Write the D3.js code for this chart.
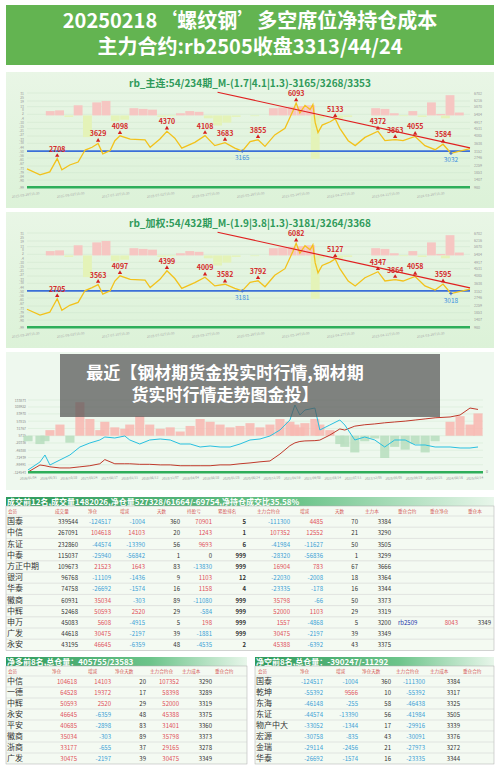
<!DOCTYPE html>
<html><head><meta charset="utf-8">
<script src="https://cdn.jsdelivr.net/npm/d3@7"></script>
<style>body{margin:0;background:#fff}svg{display:block;font-family:"Noto Sans CJK SC","Noto Sans",sans-serif}</style>
</head><body><div id="chart"></div>
<script>
const W = 500, H = 772;
const svg = d3.select("#chart").append("svg").attr("width", W).attr("height", H);

// ---- data ----
const titleLines = ["20250218‘螺纹钢’多空席位净持仓成本", "主力合约:rb2505收盘3313/44/24"];

const mainYears = [15.60,15.88,16.09,16.25,16.35,16.52,16.70,16.85,17.00,17.13,17.23,17.39,17.49,17.60,17.82,18.14,18.25,18.46,18.61,18.78,18.93,19.21,19.43,19.64,19.86,20.07,20.23,20.40,20.57,20.72,20.93,21.15,21.32,21.39,21.47,21.58,21.69,21.75,21.80,21.86,21.95,22.12,22.23,22.33,22.51,22.66,22.87,23.15,23.30,23.52,23.69,23.95,24.16,24.38,24.55,24.72,25.13];
const mainPrice = [2080,1720,1900,2708,2020,2320,2500,3230,3400,3629,3000,3200,3800,4098,3900,3850,3400,3900,4370,3950,3350,3700,4108,3500,3683,3350,3165,3750,3855,3450,4150,4550,5600,6093,5500,5950,5700,6000,4900,4300,4750,4950,5133,4550,3800,3500,4000,4372,3800,3863,3800,4055,3500,3250,3584,3032,3310];
const weightPrice = [2060,1700,1880,2705,2000,2300,2480,3200,3380,3563,2980,3180,3780,4097,3880,3830,3380,3880,4399,3930,3330,3680,4009,3480,3582,3330,3181,3700,3792,3430,4130,4530,5580,6082,5480,5930,5680,5980,4880,4280,4730,4930,5127,4530,3780,3480,3980,4347,3780,3864,3780,4058,3480,3230,3595,3018,3290];
const mainPeaks = [3, 9, 13, 18, 22, 24, 28, 33, 42, 47, 49, 51, 54];
const mainLows = [26, 55];

const histYears = [15.6,15.9,16.1,16.3,16.5,16.7,16.9,17.1,17.3,17.5,17.7,17.9,18.1,18.3,18.5,18.7,18.9,19.1,19.3,19.5,19.7,19.9,20.1,20.3,20.5,20.7,20.9,21.1,21.3,21.5,21.7,21.8,21.9,22.1,22.3,22.5,22.7,22.9,23.1,23.3,23.5,23.7,23.9,24.1,24.3,24.5,24.6,24.7,24.9,25.1];
const histMain = [0,0,6,7,-2,14,-30,18,20,-8,-6,10,9,8,-2,-1,3,6,5,-4,-14,-10,-2,0,-1,0,10,11,12,13,14,-60,-4,0,-6,-2,0,0,10,9,3,-1,6,-2,18,2,-4,28,4,0];

const leftTicks1 = [31,25,19,13,8,2,-4,-10,-15,-21,-27,-33,-38,-44,-50,-56,-61,-67,-73,-79,-84,-90,-99];
const rightTicks1 = [6702,6216,5870,5404,4917,4531,4085,3638,3152,2746,2259,1853,1407,980];
const dateLabels1 = ["2015-09-28T15:30","2016-08-03T15:00","2017-07-10T15:30","2018-07-02T15:00","2019-09-17T15:00","2020-05-28T15:00","2021-05-14T15:00","2022-04-27T15:30","2023-04-11T15:00","2024-03-28T15:30"];
const trendStart = [19.70, 6750], trendEnd = [25.13, 3360];

const netYears = [16.00,16.24,16.34,16.44,16.64,16.84,17.04,17.24,17.44,17.54,17.74,17.94,18.04,18.24,18.44,18.65,18.85,19.05,19.25,19.45,19.65,19.85,20.05,20.25,20.45,20.65,20.85,21.05,21.25,21.35,21.45,21.55,21.75,21.85,22.05,22.25,22.35,22.55,22.75,22.95,23.15,23.35,23.56,23.76,23.96,24.16,24.46,24.66,24.86,25.02];
const priceIdx = [-117357,-88645,-63520,-99412,-81467,-63520,-34810,-20454,-9687,1080,-2509,4669,-9687,-24043,-9687,-6098,-9687,-24043,-24043,-34810,-31221,-34810,-34810,-24043,-9687,-6098,4669,26203,62093,115928,80038,97983,105161,26203,44148,62093,44148,-9687,1080,-9687,-34810,-9687,-9687,-27632,-27632,-34810,-34810,-38399,-38399,-34810];
const profitIdx = [-124543,-99412,-102000,-106000,-110000,-110000,-106000,-102000,-95000,-80000,-95000,-95000,-95000,-97000,-97000,-99000,-99000,-102000,-102000,-102000,-102000,-99000,-99000,-95000,-92000,-88000,-85000,-60000,-30000,-20000,-15000,-13000,-12000,-10000,8000,30000,26000,40000,45000,48000,52000,55000,58000,62000,66000,70000,73000,80000,105000,100000];
const netBars = [-20000,-30000,-20000,20000,40000,-25000,120000,60000,20000,50000,30000,25000,40000,70000,40000,25000,30000,15000,35000,60000,50000,40000,30000,35000,45000,30000,40000,60000,50000,40000,30000,45000,60000,40000,20000,-30000,-40000,-60000,-20000,-10000,-80000,-40000,-50000,-30000,-60000,-20000,50000,70000,40000,80000];
const leftTicks3 = [133873,108922,83970,57815,31767,5715,-20336,-46388,-72439,-98491,-124543];
const dateLabels3 = ["2016/01/04","2016/05/31","2016/10/28","2017/03/24","2017/08/17","2018/01/11","2018/06/12","2018/11/07","2019/04/04","2019/08/28","2020/01/23","2020/06/24","2020/11/20","2021/04/19","2021/09/08","2022/03/14","2022/07/11","2022/12/05","2023/05/05","2023/09/23","2024/02/21","2024/08/16","2025/02/14"];

const t1Title = "成交前12名,成交量1482026,净仓量527328/61664/-69754,净持仓成交比35.58%";
const t1Heads = ["会员","成交量","净仓","增减","天数","持盈亏","累盈排名","主力合约仓","增减","天数","主力本","重仓合约","重仓净仓","重仓本"];
const t1Names = ["国泰","中信","东证","中泰","方正中期","银河","华泰","徽商","中辉","申万","广发","永安"];
const t1Vol = [339544,267091,232860,115037,109673,96768,74758,60931,52468,45083,44618,43195];
const t1Net = [-124517,104618,-44574,-25940,21523,-11109,-26692,35034,50593,5608,30475,46645];
const t1Chg = [-1004,14103,-13390,-56842,1643,-1436,-1574,-303,2520,-4915,-2197,-6359];
const t1Days = [360,20,56,1,83,9,16,89,29,5,39,48];
const t1Pnl = [70901,1243,9693,0,-13830,1103,1158,-11080,-584,198,-1881,-4535];
const t1Rank = [5,1,6,999,999,12,4,999,999,999,999,2];
const t1Main = [-111300,107352,-41984,-28320,16904,-22030,-23335,35798,52000,1557,30475,45388];
const t1MainChg = [4485,12552,-11627,-56836,783,-2008,-178,-66,1103,-4868,-2197,-6392];
const t1MainDays = [70,21,50,1,67,18,16,50,29,5,39,43];
const t1Cost = [3384,3290,3505,3299,3666,3364,3344,3373,3319,3200,3349,3375];

const t2Title = "净多前8名,总仓量：405755/23583";
const t2Names = ["中信","一德","中辉","永安","平安","徽商","浙商","广发"];
const t2Net = [104618,64528,50593,46645,40685,35034,33177,30475];
const t2Chg = [14103,19372,2520,-6359,-2898,-303,-655,-2197];
const t2Days = [20,17,29,48,83,89,37,39];
const t2Main = [107352,58398,52000,45388,31401,35798,29165,30475];
const t2Cost = [3290,3289,3319,3375,3360,3373,3278,3349];

const t3Title = "净空前8名,总仓量：-390247/-11292";
const t3Names = ["国泰","乾坤","东海","东证","物产中大","宏源","金瑞","华泰"];
const t3Net = [-124517,-55392,-46148,-44574,-33052,-30758,-29114,-26692];
const t3Chg = [-1004,9566,-255,-13390,-1344,-835,-2456,-1574];
const t3Days = [360,10,58,56,17,43,21,16];
const t3Main = [-111300,-55392,-46438,-41984,-29916,-30091,-27973,-23335];
const t3Cost = [3384,3317,3325,3505,3339,3376,3272,3344];
const t23Heads = ["会员","净仓","增减","净仓天数","主力合约仓","主力成本","重仓合约"];

// ---- helpers ----
const RED = "#e0505a", BLUE = "#3a9fd6", GREEN = "#2f9a5a";
const sign = v => v > 0 ? RED : v < 0 ? BLUE : "#333";
const defs = svg.append("defs");
const gr = defs.append("linearGradient").attr("id", "pbg").attr("x1", 0).attr("x2", 0).attr("y1", 0).attr("y2", 1);
gr.append("stop").attr("offset", 0).attr("stop-color", "#e9f6e6");
gr.append("stop").attr("offset", 1).attr("stop-color", "#dcf2d8");
const hg = defs.append("linearGradient").attr("id", "hbg");
hg.append("stop").attr("offset", 0).attr("stop-color", "#2e9a5c");
hg.append("stop").attr("offset", 0.6).attr("stop-color", "#6cc48a");
hg.append("stop").attr("offset", 1).attr("stop-color", "#e8f6ea");

// header
svg.append("rect").attr("x", 6).attr("y", 5).attr("width", 488).attr("height", 60).attr("fill", "#63b451");
titleLines.forEach((t, i) => svg.append("text").attr("x", 250).attr("y", 28 + i * 26)
  .attr("text-anchor", "middle").attr("fill", "#fff").attr("font-size", 20).attr("font-weight", "bold").text(t));

function pricePanel(top, title, price, peaks, lows) {
  const g = svg.append("g");
  g.append("rect").attr("x", 6).attr("y", top).attr("width", 488).attr("height", 136).attr("fill", "url(#pbg)");
  g.append("text").attr("x", 250).attr("y", top + 15).attr("text-anchor", "middle").attr("fill", GREEN)
    .attr("font-size", 10).attr("font-weight", "bold").text(title);
  const x = d3.scaleLinear().domain([15.6, 25.13]).range([27, 470]);
  const y = d3.scaleLinear().domain([980, 6702]).range([top + 115, top + 21]);
  const yh = d3.scaleLinear().domain([-99, 31]).range([top + 115, top + 21]);
  rightTicks1.forEach(v => {
    g.append("line").attr("x1", 27).attr("x2", 470).attr("y1", y(v)).attr("y2", y(v)).attr("stroke", "#cfe5cc").attr("stroke-width", 0.5);
    g.append("text").attr("x", 474).attr("y", y(v) + 1.5).attr("font-size", 3.6).attr("fill", "#999").text(v);
  });
  leftTicks1.forEach(v => g.append("text").attr("x", 24).attr("y", yh(v) + 1.5).attr("text-anchor", "end")
    .attr("font-size", 3.4).attr("fill", "#999").text(v));
  const bw = (x(25.13) - x(15.6)) / histYears.length;
  g.selectAll(".h").data(histMain).join("rect")
    .attr("x", (d, i) => x(histYears[i]) - bw / 2).attr("width", bw)
    .attr("y", d => Math.min(yh(0), yh(d))).attr("height", d => Math.abs(yh(d) - yh(0)))
    .attr("fill", d => d > 0 ? "#f6c6c2" : "#e4f3b8");
  g.append("rect").attr("x", 27).attr("y", top + 114).attr("width", 443).attr("height", 2.5).attr("fill", "#2fae5a");
  g.append("line").attr("x1", 27).attr("x2", 470).attr("y1", y(price[lows[0]])).attr("y2", y(price[lows[0]]))
    .attr("stroke", "#3b6fd8").attr("stroke-width", 1.6);
  g.append("path").datum(price).attr("fill", "none").attr("stroke", "#f2c21b").attr("stroke-width", 1.3)
    .attr("d", d3.line().x((d, i) => x(mainYears[i])).y(d => y(d)));
  g.append("line").attr("x1", x(trendStart[0])).attr("y1", y(trendStart[1]))
    .attr("x2", x(trendEnd[0])).attr("y2", y(trendEnd[1])).attr("stroke", "#e02020").attr("stroke-width", 1.2);
  peaks.forEach(i => {
    g.append("path").attr("d", d3.symbol(d3.symbolTriangle, 8)()).attr("fill", "#d42020")
      .attr("transform", `translate(${x(mainYears[i])},${y(price[i]) - 3})`);
    g.append("text").attr("x", x(mainYears[i])).attr("y", y(price[i]) - 7).attr("text-anchor", "middle")
      .attr("font-size", 7).attr("font-weight", "bold").attr("fill", "#d42a2a").text(price[i]);
  });
  lows.forEach(i => {
    g.append("path").attr("d", d3.symbol(d3.symbolCross, 6)()).attr("fill", "#3b6fd8")
      .attr("transform", `translate(${x(mainYears[i])},${y(price[i])})`);
    g.append("text").attr("x", x(mainYears[i])).attr("y", y(price[i]) + 9).attr("text-anchor", "middle")
      .attr("font-size", 6.5).attr("fill", "#3a8ee0").text(price[i]);
  });
  dateLabels1.forEach((d, i) => g.append("text").attr("font-size", 3.4).attr("fill", "#aaa")
    .attr("transform", `translate(${12 + i * 45},${top + 126}) rotate(-8)`).text(d));
}
pricePanel(72, "rb_主连:54/234期_M-(1.7|4.1|1.3)-3165/3268/3353", mainPrice, mainPeaks, mainLows);
pricePanel(212, "rb_加权:54/432期_M-(1.9|3.8|1.3)-3181/3264/3368", weightPrice, mainPeaks, mainLows);

// panel 3
{
  const top = 352, g = svg.append("g");
  g.append("rect").attr("x", 6).attr("y", top).attr("width", 488).attr("height", 138).attr("fill", "#eef8ee");
  const x = d3.scaleLinear().domain([16.0, 25.12]).range([28, 483]);
  const y = d3.scaleLinear().domain([-124543, 133873]).range([472, 400]);
  leftTicks3.forEach(v => {
    g.append("line").attr("x1", 28).attr("x2", 483).attr("y1", y(v)).attr("y2", y(v)).attr("stroke", "#d3e8d3").attr("stroke-width", 0.5);
    g.append("text").attr("x", 26).attr("y", y(v) + 1.5).attr("text-anchor", "end").attr("font-size", 3.4).attr("fill", "#888").text(v);
  });
  const bw = 455 / netBars.length, base = y(5715);
  g.selectAll(".nb").data(netBars).join("rect")
    .attr("x", (d, i) => x(netYears[i]) - bw / 2).attr("width", bw)
    .attr("y", d => d > 0 ? base - (y(0) - y(d)) : base).attr("height", d => Math.abs(y(0) - y(d)))
    .attr("fill", d => d > 0 ? "#f7b9b2" : "#b9dfc0").attr("opacity", 0.9);
  g.append("path").datum(profitIdx).attr("fill", "none").attr("stroke", "#c0392b").attr("stroke-width", 1)
    .attr("d", d3.line().x((d, i) => x(netYears[i])).y(d => y(d)));
  g.append("path").datum(priceIdx).attr("fill", "none").attr("stroke", "#28c0e0").attr("stroke-width", 1)
    .attr("d", d3.line().x((d, i) => x(netYears[i])).y(d => y(d)));
  g.append("rect").attr("x", 28).attr("y", 471).attr("width", 455).attr("height", 2.5).attr("fill", "#2fae5a");
  g.append("text").attr("x", 486).attr("y", 473).attr("font-size", 3.6).attr("fill", "#888").text("0");
  dateLabels3.forEach((d, i) => g.append("text").attr("font-size", 3.2).attr("fill", "#888")
    .attr("transform", `translate(${20 + i * 20.3},${480}) rotate(-5)`).text(d));
  g.append("rect").attr("x", 60).attr("y", 354).attr("width", 380).attr("height", 63).attr("fill", "#555").attr("opacity", 0.72);
  ["最近【钢材期货金投实时行情,钢材期", "货实时行情走势图金投】"].forEach((t, i) =>
    g.append("text").attr("x", 225).attr("y", 379 + i * 22).attr("text-anchor", "middle").attr("fill", "#fff")
      .attr("font-size", 17).attr("font-weight", "bold").text(t));
}

// tables
function table(x0, x1, top, title, heads, headX, rows, rowH) {
  const g = svg.append("g");
  g.append("rect").attr("x", x0).attr("y", top).attr("width", x1 - x0).attr("height", 9).attr("fill", "url(#hbg)");
  g.append("text").attr("x", x0 + 1).attr("y", top + 7.5).attr("fill", "#fff").attr("font-size", 8).attr("font-weight", "bold").text(title);
  g.append("rect").attr("x", x0).attr("y", top + 9).attr("width", x1 - x0).attr("height", 10 + rows.length * rowH).attr("fill", "#f4faf2").attr("stroke", "#aaa").attr("stroke-width", 0.5);
  heads.forEach((h, i) => g.append("text").attr("x", headX[i]).attr("y", top + 16).attr("font-size", 4.6).attr("fill", "#d45a5a").text(h));
  rows.forEach((r, j) => {
    const yy = top + 19 + j * rowH;
    g.append("line").attr("x1", x0).attr("x2", x1).attr("y1", yy).attr("y2", yy).attr("stroke", "#ccc").attr("stroke-width", 0.5);
    r.forEach(c => g.append("text").attr("x", c.x).attr("y", yy + rowH - 3).attr("text-anchor", c.a || "end")
      .attr("font-size", c.name ? 8 : 6).attr("fill", c.c || "#333").attr("font-weight", c.b ? "bold" : null).text(c.t));
  });
}
table(6, 494, 497, t1Title, t1Heads, [8,55,88,120,157,187,218,257,300,335,365,398,430,468],
  t1Names.map((n, i) => {
    const r = [{t: n, x: 7, a: "start", name: 1}, {t: t1Vol[i], x: 78},
      {t: t1Net[i], x: 111, c: sign(t1Net[i])}, {t: t1Chg[i], x: 145, c: sign(t1Chg[i])},
      {t: t1Days[i], x: 180}, {t: t1Pnl[i], x: 212, c: sign(t1Pnl[i])}, {t: t1Rank[i], x: 246, b: 1},
      {t: t1Main[i], x: 290, c: sign(t1Main[i])}, {t: t1MainChg[i], x: 323, c: sign(t1MainChg[i])},
      {t: t1MainDays[i], x: 358}, {t: t1Cost[i], x: 391}];
    if (n === "申万") r.push({t: "rb2509", x: 398, a: "start", c: "#2233aa"}, {t: 8043, x: 458, c: RED}, {t: 3349, x: 491});
    return r;
  }), 11.2);
const sub = (x0, names, net, chg, days, main, cost, xs) => names.map((n, i) => [
  {t: n, x: x0 + 1, a: "start", name: 1}, {t: net[i], x: xs[0], c: sign(net[i])}, {t: chg[i], x: xs[1], c: sign(chg[i])},
  {t: days[i], x: xs[2]}, {t: main[i], x: xs[3], c: sign(main[i])}, {t: cost[i], x: xs[4]}]);
table(6, 247, 657, t2Title, t23Heads, [8,52,88,115,150,182,215], sub(6, t2Names, t2Net, t2Chg, t2Days, t2Main, t2Cost, [77,111,146,179,212]), 11);
table(255, 494, 657, t3Title, t23Heads, [258,300,336,362,396,430,463], sub(255, t3Names, t3Net, t3Chg, t3Days, t3Main, t3Cost, [323,358,391,425,460]), 11);
</script></body></html>
